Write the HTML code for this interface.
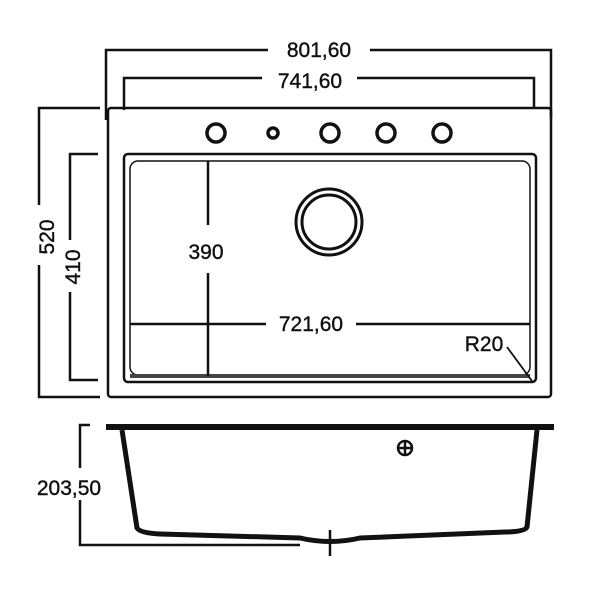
<!DOCTYPE html>
<html><head><style>body{margin:0;background:#fff}svg{display:block}</style></head><body>
<svg width="600" height="597" viewBox="0 0 600 597" xmlns="http://www.w3.org/2000/svg" font-family="Liberation Sans, sans-serif" font-size="21" fill="none" stroke="#111">
<g stroke-width="2.5">
<polyline points="106,120 106,50 268,50"/><polyline points="370,50 551,50 551,118"/>
<polyline points="124,110 124,78 262,78"/><polyline points="357,78 534,78 534,108"/>
<rect x="108" y="108" width="443" height="289" rx="3"/>
<rect x="124" y="154" width="412" height="228" rx="4"/>
<rect x="130" y="161" width="400" height="214" rx="8" stroke-width="1.5"/>
<line x1="130" y1="376" x2="530" y2="376" stroke-width="4" stroke="#444"/>
<polyline points="100,108 39,108 39,205"/><polyline points="39,265 39,397 100,397"/>
<polyline points="98,154 70,154 70,240"/><polyline points="70,292 70,380 98,380"/>
<line x1="208" y1="161" x2="208" y2="225"/><line x1="208" y1="273" x2="208" y2="376"/>
<line x1="130" y1="324" x2="266" y2="324"/><line x1="356" y1="324" x2="530" y2="324"/>
<line x1="507" y1="347" x2="532" y2="381" stroke-width="1.8"/>
<g stroke-width="3.5">
<circle cx="216" cy="133" r="9"/><circle cx="273" cy="133" r="5"/><circle cx="330" cy="133" r="9"/><circle cx="386" cy="133" r="9"/><circle cx="442" cy="133" r="9"/>
</g>
<circle cx="329" cy="222" r="33" stroke-width="3"/><circle cx="329" cy="222" r="27" stroke-width="3"/>
<line x1="106" y1="427" x2="554" y2="427" stroke-width="6"/>
<path d="M122,430 L137,528 Q140,533 160,534 L300,538 Q330,545 360,538 L505,532 Q525,532 527,527 L537,430" stroke-width="5"/>
<line x1="330" y1="530" x2="330" y2="556"/>
<circle cx="405" cy="448" r="7"/><line x1="405" y1="440" x2="405" y2="456"/><line x1="398" y1="448" x2="412" y2="448"/>
<polyline points="90,425 80,425 80,468"/><polyline points="80,500 80,545 300,545"/>
</g>
<g fill="#111" stroke="#111" stroke-width="0.4">
<text x="319" y="57" text-anchor="middle">801,60</text>
<text x="310" y="88" text-anchor="middle">741,60</text>
<text x="206" y="259" text-anchor="middle">390</text>
<text x="311" y="331" text-anchor="middle">721,60</text>
<text x="484" y="351" text-anchor="middle">R20</text>
<text x="69" y="495" text-anchor="middle">203,50</text>
<text transform="translate(54,237) rotate(-90)" text-anchor="middle">520</text>
<text transform="translate(80,267) rotate(-90)" text-anchor="middle">410</text>
</g>
</svg>
</body></html>
